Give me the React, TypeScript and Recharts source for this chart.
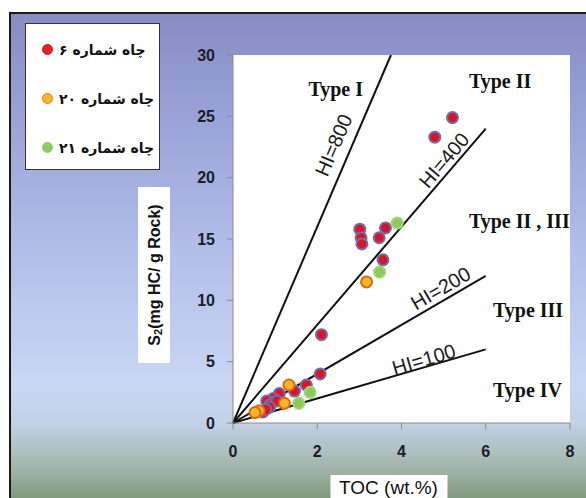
import React from "react";
import {
  ScatterChart,
  Scatter,
  XAxis,
  YAxis,
  ReferenceLine,
  ReferenceArea,
} from "recharts";

// well names (legend)
const wellNames = ["چاه شماره ۶", "چاه شماره ۲۰", "چاه شماره ۲۱"];

// TOC (wt.%) vs S2 (mg HC/g rock)
const well6 = [
  { toc: 5.21, s2: 24.9 },
  { toc: 4.79, s2: 23.3 },
  { toc: 3.01, s2: 15.8 },
  { toc: 3.04, s2: 15.1 },
  { toc: 3.06, s2: 14.6 },
  { toc: 3.62, s2: 15.9 },
  { toc: 3.47, s2: 15.1 },
  { toc: 3.56, s2: 13.3 },
  { toc: 2.1, s2: 7.2 },
  { toc: 2.07, s2: 4.0 },
  { toc: 1.74, s2: 3.1 },
  { toc: 1.46, s2: 2.6 },
  { toc: 1.1, s2: 2.4 },
  { toc: 0.96, s2: 2.0 },
  { toc: 0.8, s2: 1.8 },
  { toc: 0.88, s2: 1.5 },
  { toc: 1.04, s2: 1.8 },
  { toc: 0.87, s2: 1.3 },
  { toc: 0.71, s2: 0.9 },
  { toc: 0.78, s2: 1.1 },
];

const well20 = [
  { toc: 3.17, s2: 11.5 },
  { toc: 1.33, s2: 3.1 },
  { toc: 1.22, s2: 1.6 },
  { toc: 0.62, s2: 1.0 },
  { toc: 0.52, s2: 0.85 },
];

const well21 = [
  { toc: 3.9, s2: 16.3 },
  { toc: 3.48, s2: 12.3 },
  { toc: 1.83, s2: 2.5 },
  { toc: 1.56, s2: 1.6 },
];

// HI lines (S2/TOC*100) and where each one stops on the TOC axis
const hiValues = [800, 400, 200, 100];
const hiLineEnds = [3.75, 6, 6, 6];

const xTicks = [0, 2, 4, 6, 8];
const yTicks = [0, 5, 10, 15, 20, 25, 30];

// labels along the HI lines
const hiLabels = [
  { toc: 2.39, s2: 22.66, text: "HI=800", angle: -66.8 },
  { toc: 5.01, s2: 21.43, text: "HI=400", angle: -49.4 },
  { toc: 4.93, s2: 10.98, text: "HI=200", angle: -30.3 },
  { toc: 4.53, s2: 5.19, text: "HI=100", angle: -16.3 },
];

// kerogen type labels
const typeLabels = [
  { toc: 1.79, s2: 26.65, text: "Type I" },
  { toc: 5.6, s2: 27.3, text: "Type II" },
  { toc: 5.6, s2: 15.9, text: "Type II , III" },
  { toc: 6.17, s2: 8.64, text: "Type III" },
  { toc: 6.17, s2: 2.12, text: "Type IV" },
];

const wellColors = [
  { fill: "#d4172b", stroke: "#7a6aa4", legend: "#e3202c", legendStroke: "#d41a26" },
  { fill: "#f7b52a", stroke: "#dc6a12", legend: "#f7b52a", legendStroke: "#e27a14" },
  { fill: "#8cca58", stroke: "#9fd474", legend: "#8fce5e", legendStroke: "#8fce5e" },
];

const tickFont = { fontFamily: "'Liberation Sans', Arial, sans-serif", fontWeight: 700, fontSize: 16, fill: "#1c1c28" };

const dot = (i: number) => (p: any) => (
  <circle cx={p.cx} cy={p.cy} r={5.5} fill={wellColors[i].fill} stroke={wellColors[i].stroke} strokeWidth={2} />
);

const hiLabelShape = (p: any) => (
  <text
    x={p.cx}
    y={p.cy}
    transform={`rotate(${p.payload.angle}, ${p.cx}, ${p.cy})`}
    textAnchor="middle"
    dominantBaseline="central"
    fontFamily="'Liberation Sans', Arial, sans-serif"
    fontSize={20}
    fill="#1a1a1a"
  >
    {p.payload.text}
  </text>
);

const typeLabelShape = (p: any) => (
  <text
    x={p.cx}
    y={p.cy}
    textAnchor="start"
    fontFamily="'Liberation Serif', 'Times New Roman', serif"
    fontWeight={700}
    fontSize={20}
    fill="#111"
  >
    {p.payload.text}
  </text>
);

const LegendBox = () => (
  <div
    style={{
      position: "absolute",
      left: 25,
      top: 23,
      width: 135,
      height: 147,
      background: "#fff",
      border: "1px solid #333",
      boxSizing: "border-box",
      paddingTop: 1,
    }}
  >
    {wellNames.map((name, i) => (
      <div key={name} style={{ display: "flex", alignItems: "center", height: 49, whiteSpace: "nowrap" }}>
        <span
          style={{
            display: "inline-block",
            flex: "none",
            width: 9,
            height: 9,
            borderRadius: "50%",
            marginLeft: 16,
            background: wellColors[i].legend,
            border: `1.5px solid ${wellColors[i].legendStroke}`,
          }}
        />
        <span
          style={{
            marginLeft: 6,
            direction: "rtl",
            whiteSpace: "nowrap",
            fontFamily: "'DejaVu Sans', sans-serif",
            fontWeight: 700,
            fontSize: 14,
            color: "#111",
          }}
        >
          {name}
        </span>
      </div>
    ))}
  </div>
);

const YTitle = (props: any) => {
  const { viewBox } = props;
  const x = viewBox.x;
  const cy = viewBox.y + viewBox.height / 2 + 36;
  const cx = x + 16;
  return (
    <g>
      <rect x={x} y={cy - 88} width={32} height={176} fill="#fff" />
      <text
        x={cx}
        y={cy}
        transform={`rotate(-90, ${cx}, ${cy})`}
        textAnchor="middle"
        dominantBaseline="central"
        fontFamily="'Liberation Sans', Arial, sans-serif"
        fontWeight={700}
        fontSize={16}
        fill="#111"
      >
        S
        <tspan fontSize={11} dy={4}>2</tspan>
        <tspan dy={-4}>(mg HC/ g Rock)</tspan>
      </text>
    </g>
  );
};

const XTitle = (props: any) => {
  const { viewBox } = props;
  const cx = viewBox.x + viewBox.width / 2 - 13;
  return (
    <g>
      <rect x={cx - 58} y={475} width={117} height={30} fill="#fff" />
      <text
        x={cx}
        y={487}
        textAnchor="middle"
        dominantBaseline="central"
        fontFamily="'Liberation Sans', Arial, sans-serif"
        fontSize={19}
        fill="#111"
      >
        TOC (wt.%)
      </text>
    </g>
  );
};

export default function App() {
  return (
    <div style={{ position: "absolute", left: 0, top: 0, width: 586, height: 498, background: "#fff", overflow: "hidden" }}>
      <div
        style={{
          position: "absolute",
          left: 9,
          top: 12,
          right: -4,
          bottom: -4,
          borderTop: "2px solid #1a1a1a",
          borderLeft: "2px solid #1a1a1a",
          background:
            "linear-gradient(to bottom, #878cc4 0%, #9aa3d8 22%, #b4bfea 50%, #c9d6f3 76%, #c2d1e6 84%, #a3b5ab 93%, #7c9679 100%)",
        }}
      />
      <div style={{ position: "absolute", left: 0, top: 0 }}>
        <ScatterChart width={586} height={498} margin={{ top: 55, right: 16, left: 138, bottom: 0 }}>
          <XAxis
            type="number"
            dataKey="toc"
            domain={[0, 8]}
            ticks={xTicks}
            height={75}
            tick={tickFont}
            tickSize={6}
            tickMargin={17}
            axisLine={{ stroke: "#8a8a8a" }}
            tickLine={{ stroke: "#8a8a8a" }}
            label={{ content: XTitle }}
          />
          <YAxis
            type="number"
            dataKey="s2"
            domain={[0, 30]}
            ticks={yTicks}
            width={95}
            tick={tickFont}
            tickSize={6}
            tickMargin={12}
            axisLine={{ stroke: "#8a8a8a" }}
            tickLine={{ stroke: "#8a8a8a" }}
            label={{ content: YTitle }}
          />
          <ReferenceArea x1={0} x2={8} y1={0} y2={30} fill="#fff" fillOpacity={1} stroke="none" />
          {hiValues.map((hi, i) => (
            <ReferenceLine
              key={hi}
              segment={[
                { x: 0, y: 0 },
                { x: hiLineEnds[i], y: (hiLineEnds[i] * hi) / 100 },
              ]}
              stroke="#111"
              strokeWidth={2}
              ifOverflow="visible"
            />
          ))}
          <Scatter name="w6" data={well6} shape={dot(0)} isAnimationActive={false} />
          <Scatter name="w21" data={well21} shape={dot(2)} isAnimationActive={false} />
          <Scatter name="w20" data={well20} shape={dot(1)} isAnimationActive={false} />
          <Scatter name="hi" data={hiLabels} shape={hiLabelShape} isAnimationActive={false} />
          <Scatter name="types" data={typeLabels} shape={typeLabelShape} isAnimationActive={false} />
        </ScatterChart>
      </div>
      <LegendBox />
    </div>
  );
}
